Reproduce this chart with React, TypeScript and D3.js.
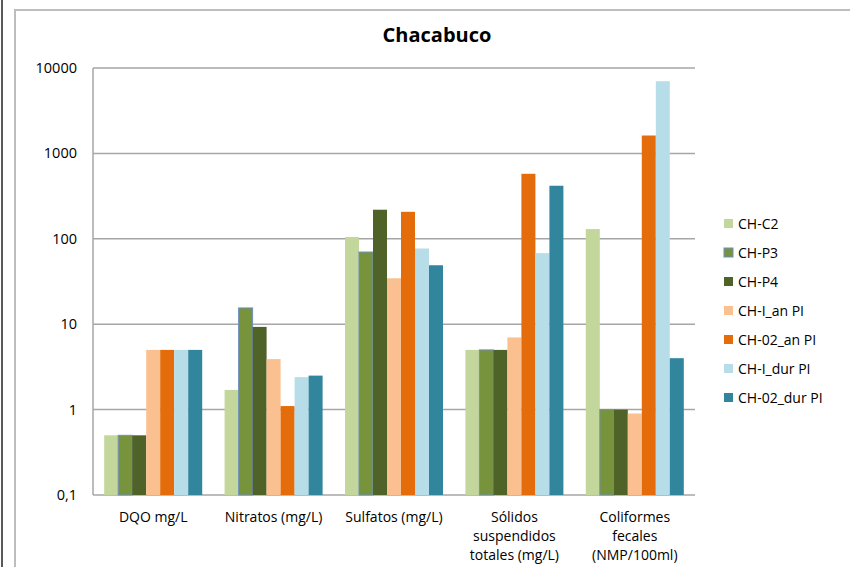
import React from 'react';
import * as d3 from 'd3';

const categories = [
  ['DQO mg/L'],
  ['Nitratos (mg/L)'],
  ['Sulfatos (mg/L)'],
  ['Sólidos', 'suspendidos', 'totales (mg/L)'],
  ['Coliformes', 'fecales', '(NMP/100ml)'],
];
const seriesNames = ['CH-C2', 'CH-P3', 'CH-P4', 'CH-I_an PI', 'CH-02_an PI', 'CH-I_dur PI', 'CH-02_dur PI'];
const seriesColors = ['#c3d69b', '#77933c', '#4f6228', '#fac090', '#e46c0a', '#b7dee8', '#31859c'];

// one array per series, values in category order
const chC2 = [0.5, 1.7, 105, 5, 130];
const chP3 = [0.5, 15.5, 70, 5, 1];
const chP4 = [0.5, 9.3, 219, 5, 1];
const chIan = [5, 3.9, 34.5, 7, 0.9];
const ch02an = [5, 1.1, 207, 577, 1620];
const chIdur = [5, 2.4, 77, 68, 7000];
const ch02dur = [5, 2.5, 49, 418, 4];
const seriesValues = [chC2, chP3, chP4, chIan, ch02an, chIdur, ch02dur];

const yTicks = [0.1, 1, 10, 100, 1000, 10000];
const yTickLabels = ['0,1', '1', '10', '100', '1000', '10000'];

const W = 850, H = 567;
const margin = { top: 68, right: 155, bottom: 72, left: 93 };
const font = '"Open Sans", "Liberation Sans", sans-serif';

export default function App() {
  const x0 = d3.scaleBand<number>()
    .domain(d3.range(categories.length))
    .range([margin.left, W - margin.right])
    .paddingInner(0.186)
    .paddingOuter(0.093);
  const x1 = d3.scaleBand<number>()
    .domain(d3.range(seriesNames.length))
    .range([0, x0.bandwidth()]);
  const y = d3.scaleLog().domain([0.1, 10000]).range([H - margin.bottom, margin.top]);
  const gridRight = W - margin.right;

  return (
    <svg width={W} height={H} style={{ position: 'absolute', left: 0, top: 0, background: '#fff' }}>
      <line x1={2} x2={2} y1={0} y2={H} stroke="#222" strokeWidth={1.5} />
      <rect x={15} y={10} width={900} height={700} fill="#fff" stroke="#bdbdbd" strokeWidth={2} />
      <text x={437} y={42} textAnchor="middle" fontFamily={font} fontWeight="bold" fontSize={20}>Chacabuco</text>

      {yTicks.map((t, i) => (
        <g key={t}>
          <line x1={margin.left} x2={gridRight} y1={y(t)} y2={y(t)} stroke="#a6a6a6" strokeWidth={1.5} />
          <text x={77} y={y(t)} dy="0.35em" textAnchor="end" fontFamily={font} fontSize={14.5}>{yTickLabels[i]}</text>
        </g>
      ))}
      <line x1={margin.left} x2={margin.left} y1={margin.top} y2={H - margin.bottom} stroke="#a6a6a6" strokeWidth={1.5} />

      {categories.map((c, ci) => (
        <g key={ci} transform={`translate(${x0(ci)},0)`}>
          {seriesValues.map((vals, si) => (
            <rect key={si}
              x={x1(si)!}
              y={y(vals[ci])}
              width={x1.bandwidth()}
              height={y(0.1) - y(vals[ci])}
              fill={seriesColors[si]}
              stroke={si === 1 ? '#6f8fbf' : 'none'}
              strokeWidth={si === 1 ? 1 : 0} />
          ))}
          {c.map((line, li) => (
            <text key={li} x={x0.bandwidth() / 2} y={522 + li * 19} textAnchor="middle" fontFamily={font} fontSize={14}>{line}</text>
          ))}
        </g>
      ))}

      {seriesNames.map((n, i) => (
        <g key={n} transform={`translate(724,${224 + i * 29})`}>
          <rect x={0} y={-5} width={9} height={9} fill={seriesColors[i]} stroke={i === 1 ? '#6f8fbf' : 'none'} />
          <text x={14} y={0} dy="0.35em" fontFamily={font} fontSize={14}>{n}</text>
        </g>
      ))}
    </svg>
  );
}
